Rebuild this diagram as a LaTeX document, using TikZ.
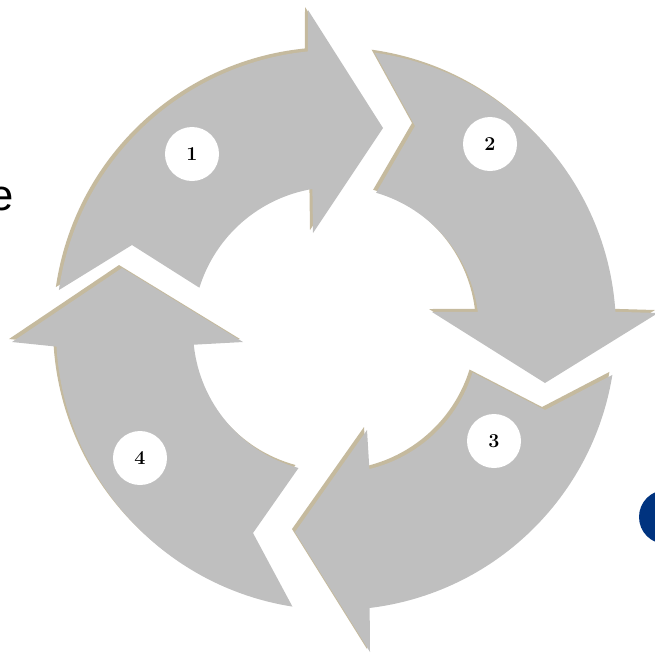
\documentclass[tikz,border=0pt]{standalone}
\usepackage{fontspec}
\newfontfamily\slidefont{Liberation Sans}
\usetikzlibrary{calc}
\definecolor{cycGray}{HTML}{BFBFBF}
\definecolor{cycShade}{HTML}{C5BA9E}
\definecolor{cycNavy}{HTML}{00337F}
\tikzset{
  cyc/arrow/.style={fill=cycGray, preaction={fill=cycShade,
    transform canvas={shift={(-0.075cm,0.075cm)}}}},
  cyc/badge/.style={circle, fill=white, minimum size=1.35cm, inner sep=0pt,
    font=\fontsize{14}{16}\selectfont\bfseries},
  cyc/dot/.style={circle, fill=cycNavy, minimum size=1.35cm, inner sep=0pt},
  cyc/cut/.style={font=\slidefont\fontsize{31}{36}\selectfont,
    anchor=base east, inner sep=0pt},
}
\begin{document}
\begin{tikzpicture}[x=0.025cm, y=0.025cm]
\useasboundingbox (0,0) rectangle (655,-653);
\clip (0,0) rectangle (655,-653);
\coordinate (hub) at (336,-330);
% four quarter arrows round the hub
\fill[cyc/arrow] ([shift={(171.8:280)}]hub) arc[start angle=171.8, end angle=95.75, radius=280]
  -- (308,-10) -- (383,-128) -- (313,-233)
  -- ([shift={(99.5:143)}]hub) arc[start angle=99.5, end angle=162.8, radius=143]
  -- (132,-245) -- cycle;
\fill[cyc/arrow] ([shift={(82.07:280)}]hub) arc[start angle=82.07, end angle=3.73, radius=280]
  -- (658,-313) -- (545,-383) -- (432,-312)
  -- ([shift={(7.28:143)}]hub) arc[start angle=7.28, end angle=73.7, radius=143]
  -- (415,-126) -- cycle;
\fill[cyc/arrow] ([shift={(-9.23:280)}]hub) arc[start angle=-9.23, end angle=-83.1, radius=280]
  -- (370,-652) -- (295,-532) -- (367,-430)
  -- ([shift={(-76.5:143)}]hub) arc[start angle=-76.5, end angle=-17.3, radius=143]
  -- (545,-410) -- cycle;
\fill[cyc/arrow] ([shift={(261.05:280)}]hub) arc[start angle=261.05, end angle=183.4, radius=280]
  -- (12,-342) -- (122,-268) -- (243,-342)
  -- ([shift={(185.9:143)}]hub) arc[start angle=185.9, end angle=254.8, radius=143]
  -- (253,-533) -- cycle;
% numbered badges
\node[cyc/badge] (num1) at (192,-154) {1};
\node[cyc/badge] (num2) at (490,-144) {2};
\node[cyc/badge] (num3) at (494,-441) {3};
\node[cyc/badge] (num4) at (140,-458) {4};
% cut-off slide bits
\node[cyc/cut] (word) at (14,-210) {e};
\node[cyc/dot] (dot) at (666,-517) {};
\end{tikzpicture}
\end{document}
